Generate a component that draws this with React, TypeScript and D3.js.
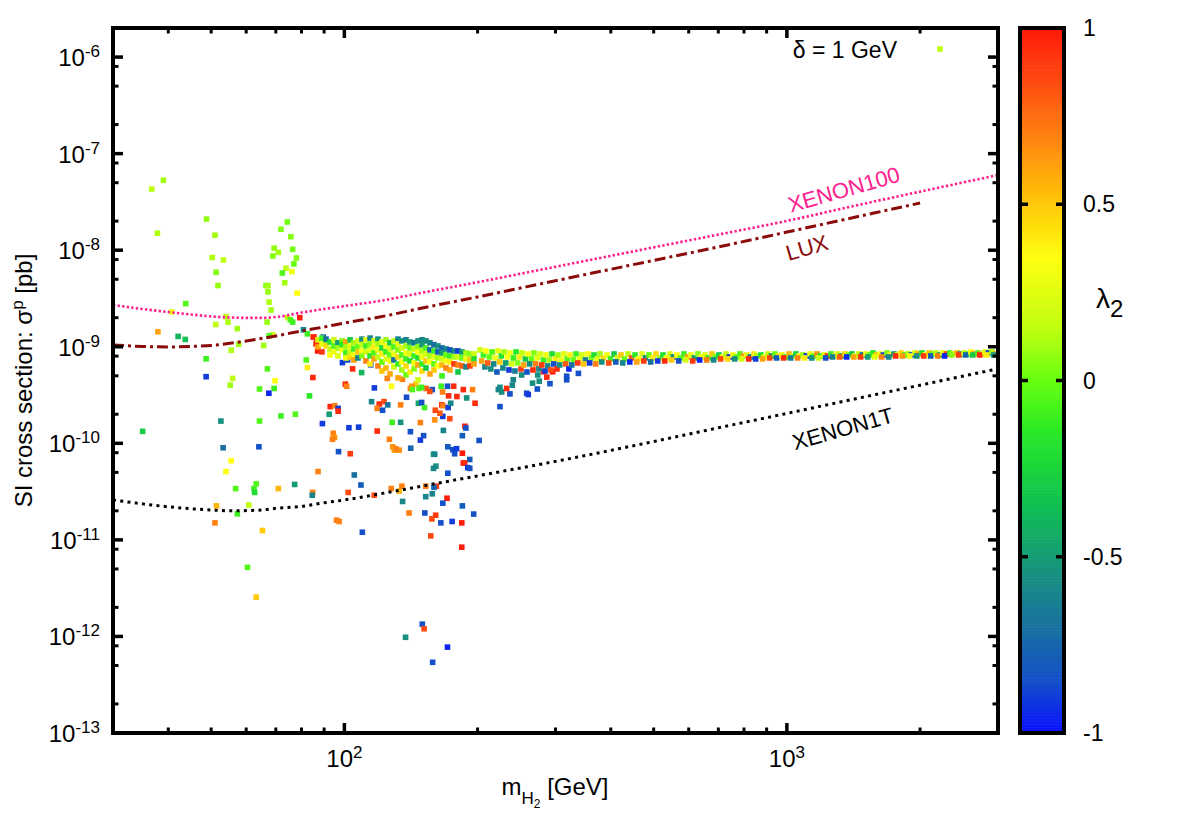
import React from 'react';
import * as d3 from 'd3';

// ---------------- axes / layout ----------------
const X_DOMAIN: [number, number] = [30, 3000];
const Y_DOMAIN: [number, number] = [1e-13, 2e-6];
const X_MAJOR = [100, 1000];
const X_MINOR = [40, 50, 60, 70, 80, 90, 200, 300, 400, 500, 600, 700, 800, 900, 2000];
const Y_MAJOR_EXP = [-13, -12, -11, -10, -9, -8, -7, -6];
const Y_MINOR_MANT = [2, 5, 8];
const CB_TICKS = [1, 0.5, 0, -0.5, -1];

// palette (lambda_2 -> colour)
const PAL_STOPS = [-1, -0.85, -0.7, -0.55, -0.35, -0.15, 0, 0.15, 0.35, 0.5, 0.7, 0.85, 1];
const PAL_COLORS = ['#0a10ff', '#1450c8', '#1870a0', '#189080', '#10c050', '#28e828', '#66ff10', '#c0ff10', '#ffff10', '#ffc808', '#ff8010', '#ff4a10', '#ff1a0a'];

// ---------------- exclusion curves ----------------
const xe100Mass = [30, 35, 40, 45, 50, 55, 60, 65, 70, 80, 90, 100, 120, 150, 200, 300, 500, 700, 1000, 1500, 2000, 3000];
const xe100Sigma = [2.71e-9, 2.46e-9, 2.29e-9, 2.16e-9, 2.06e-9, 2.01e-9, 1.99e-9, 1.99e-9, 2.03e-9, 2.26e-9, 2.46e-9, 2.64e-9, 2.98e-9, 3.63e-9, 4.66e-9, 6.73e-9, 1.07e-8, 1.45e-8, 2.01e-8, 3.04e-8, 4.04e-8, 6.0e-8];

const luxMass = [30, 35, 40, 45, 50, 60, 70, 80, 90, 100, 120, 150, 200, 300, 500, 700, 1000, 1500, 2000];
const luxSigma = [1.044e-9, 1.007e-9, 9.95e-10, 1.007e-9, 1.031e-9, 1.148e-9, 1.294e-9, 1.458e-9, 1.603e-9, 1.763e-9, 2.03e-9, 2.52e-9, 3.28e-9, 4.83e-9, 7.84e-9, 1.08e-8, 1.54e-8, 2.31e-8, 3.08e-8];

const xe1tMass = [30, 35, 40, 50, 56, 65, 70, 80, 90, 100, 120, 150, 200, 300, 375, 500, 700, 1000, 1500, 2000, 3000];
const xe1tSigma = [2.59e-11, 2.36e-11, 2.2e-11, 2.04e-11, 2.0e-11, 2.04e-11, 2.12e-11, 2.22e-11, 2.42e-11, 2.59e-11, 2.99e-11, 3.61e-11, 4.6e-11, 6.5e-11, 7.95e-11, 1.044e-10, 1.447e-10, 2.04e-10, 3.03e-10, 4.0e-10, 5.92e-10];

// ---------------- scan points: [m_H2 (GeV), sigma_p (pb), lambda_2] ----------------
type P = [number, number, number];

const lowPts: P[] = [
  [36.7, 4.3e-8, 0.15], [39, 5.3e-8, 0.1], [37.8, 1.5e-8, 0.12], [48.8, 2.1e-8, 0.08], [51, 1.43e-8, 0.1],
  [50.3, 8.4e-9, 0.12], [53.3, 7.9e-9, 0.15], [51.3, 5.9e-9, 0.05], [51.8, 4.3e-9, 0.08], [71.9, 1.65e-8, 0.05],
  [74.3, 1.96e-8, 0.02], [75.7, 1.38e-8, 0.05], [69.4, 1.05e-8, 0.08], [76.4, 1.02e-8, 0.02], [70.9, 9.5e-9, 0.1],
  [68.9, 8.7e-9, 0.05], [77.9, 8.3e-9, 0.05], [76.9, 7.2e-9, 0.0], [73.8, 6.5e-9, 0.15], [72.4, 5.8e-9, -0.05],
  [76.1, 6.0e-9, 0.3], [73.3, 4.6e-9, 0.1], [66.5, 4.3e-9, 0.05], [67.2, 4.3e-9, 0.1], [67.2, 3.7e-9, 0.08],
  [78.2, 3.6e-9, 0.35], [67.6, 2.9e-9, 0.12], [68.3, 2.4e-9, 0.1], [43.8, 2.8e-9, -0.05], [40.7, 2.3e-9, 0.3],
  [51.2, 1.7e-9, 0.15], [54, 2.05e-9, 0.15], [54.6, 1.8e-9, 0.12], [57.3, 1.54e-9, 0.1], [66.9, 1.8e-9, 0.08],
  [74.4, 2.0e-9, 0.2], [75.5, 1.9e-9, -0.05], [76.4, 1.8e-9, -0.1], [79.3, 2.0e-9, 1.0], [68.9, 1.33e-9, 0.2],
  [67.6, 1.3e-9, -0.05], [37.9, 1.43e-9, 0.6], [42.1, 1.28e-9, -0.4], [43.7, 1.19e-9, -0.35], [57.7, 1.06e-9, 0.1],
  [55.5, 9.2e-10, 0.12], [65.7, 1.03e-9, 0.1], [48.7, 7.5e-10, -0.1], [67, 5.9e-10, -0.05], [48.7, 4.9e-10, -0.9],
  [55.9, 4.7e-10, 0.15], [55.2, 4.0e-10, 0.1], [69.7, 4.45e-10, 0.35], [64.3, 3.65e-10, -0.05], [69.4, 3.7e-10, -0.1],
  [67.5, 3.3e-10, -0.95], [83.4, 3.1e-10, -0.15], [82, 7.3e-10, -0.05], [82.5, 6.1e-10, 0.4], [84.9, 4.8e-10, 0.95],
  [52.6, 1.7e-10, -0.55], [64.3, 1.7e-10, -0.05], [71.9, 1.92e-10, -0.1], [77.5, 2.0e-10, -0.05], [35, 1.33e-10, -0.3],
  [53.2, 9.0e-11, -0.7], [64.1, 9.2e-11, -0.85], [55.5, 6.6e-11, 0.35], [54, 5.1e-11, 0.35], [56.8, 3.4e-11, -0.05],
  [62.5, 3.4e-11, -0.1], [63.2, 3.8e-11, -0.05], [62.7, 3.1e-11, -0.2], [70.9, 3.4e-11, 0.55], [77.2, 3.75e-11, -0.5],
  [51.4, 2.25e-11, 0.55], [60.8, 2.3e-11, 0.15], [57.3, 1.86e-11, -0.1], [51, 1.5e-11, 0.7], [65.3, 1.25e-11, 0.5],
  [60.4, 5.2e-12, -0.05], [87.2, 5.1e-11, 0.7], [84.8, 3.1e-11, 0.7], [84.6, 2.9e-11, -0.6], [63.2, 2.55e-12, 0.5],
];

const midPts: P[] = [
  [80.8, 1.5e-9, -0.6], [82.5, 1.36e-9, -0.1], [85.4, 1.26e-9, 0.9], [86.6, 1.1e-9, 1.0], [87, 9.05e-10, 1.0],
  [89.6, 1.26e-9, -0.8], [99, 6.85e-10, -0.9], [101.7, 7.3e-10, -0.85], [104.4, 5.9e-10, 0.95], [109.4, 5.4e-10, -0.4],
  [100.5, 4.1e-10, 0.95], [101.2, 3.9e-10, 0.7], [116.9, 3.75e-10, -0.9], [114.7, 6.5e-10, -0.85], [115.2, 2.7e-10, -0.6],
  [119.9, 2.55e-10, 0.95], [122.9, 2.7e-10, 0.85], [118.6, 2.3e-10, 0.7], [122, 2.2e-10, -0.85], [125.3, 2.5e-10, -0.7],
  [92.9, 2.4e-10, 0.95], [95.1, 2.45e-10, 0.7], [96.8, 2.3e-10, -0.9], [96.8, 2.15e-10, 0.95], [92.4, 2.0e-10, -0.5],
  [89.2, 1.6e-10, -0.9], [102.4, 1.45e-10, -0.9], [107.7, 1.47e-10, -0.9], [118.6, 1.34e-10, 0.95], [94.4, 1.27e-10, 0.7],
  [95, 1.15e-10, 0.65], [94, 1.1e-10, 0.7], [97, 8.2e-11, -0.85], [103.1, 7.8e-11, 0.9], [126.4, 1.1e-10, 0.7],
  [128.6, 9.2e-11, 0.65], [129.7, 8.5e-11, 0.6], [133, 8.5e-11, 0.65], [130.8, 8.8e-11, 0.7], [134, 1.65e-10, -0.55],
  [128.2, 1.65e-10, -0.1], [141, 1.32e-10, -0.85], [141.2, 8.9e-11, -0.75], [148.5, 1.08e-10, -0.9], [151, 1.2e-10, -0.85],
  [184.8, 1.2e-10, -0.8], [187.3, 1.5e-10, 1.0], [188.2, 1.44e-10, -0.85], [201.6, 1.07e-10, -0.85], [167.4, 1.36e-10, -0.6],
  [148.5, 1.64e-10, 0.7], [160, 1.75e-10, 0.65], [166.9, 1.9e-10, -0.9], [173.1, 1.8e-10, 0.85], [164.4, 2.05e-10, 0.8],
  [166, 2.5e-10, 0.95], [167, 2.45e-10, 0.7], [171.6, 2.35e-10, -0.9], [173.9, 2.6e-10, -0.6], [172, 3.1e-10, 0.95],
  [179.6, 3.05e-10, 0.95], [189, 2.95e-10, -0.55], [197.4, 2.6e-10, 0.95], [185.7, 3.6e-10, 0.95], [194.8, 3.6e-10, 0.7],
  [224.7, 2.4e-10, -0.85], [171.3, 9.2e-11, -0.8], [175.8, 8.6e-11, -0.85], [179.3, 8.8e-11, -0.9], [177.5, 7.8e-11, -0.85],
  [184.8, 7.9e-11, 1.0], [192, 6.8e-11, -0.8], [185.7, 6.25e-11, 1.0], [187, 6.25e-11, 0.95], [190, 5.6e-11, -0.9],
  [192, 5.5e-11, -0.85], [159, 7.7e-11, -0.55], [160, 7.7e-11, -0.6], [161, 5.8e-11, -0.55], [159, 5.5e-11, -0.6],
  [171.3, 4.9e-11, -0.85], [161.4, 3.6e-11, 0.9], [159.4, 3.5e-11, -0.75], [152.7, 3.6e-11, 0.7], [158, 3.0e-11, -0.6],
  [152.7, 2.8e-11, -0.6], [170.6, 2.7e-11, 1.0], [166.9, 2.4e-11, -0.85], [152, 1.9e-11, -0.85], [160.8, 1.8e-11, 0.9],
  [157.7, 1.65e-11, 0.85], [165.2, 1.5e-11, -0.85], [175.2, 1.55e-11, -0.9], [184.8, 2.25e-11, -0.8], [196, 1.85e-11, -0.85],
  [184.2, 1.5e-11, 1.0], [156.8, 1.1e-11, 0.85], [184.2, 8.4e-12, 1.0], [140, 1.9e-11, 0.7], [135.4, 2.5e-11, -0.6],
  [127.6, 3.4e-11, 0.7], [133, 3.2e-11, 0.55], [134.9, 3.6e-11, 0.7], [116.8, 2.9e-11, 0.85], [102, 3.1e-11, 0.85],
  [96, 1.6e-11, 0.7], [97.3, 1.55e-11, 0.7], [109.8, 1.2e-11, -0.85], [105.3, 4.7e-11, -0.7], [109, 3.7e-11, -0.8],
  [137.5, 9.8e-13, -0.55], [150, 1.34e-12, -0.85], [151.4, 1.2e-12, 0.85], [158.3, 5.4e-13, -0.85], [171, 7.75e-13, -0.95],
  [127.8, 3.9e-10, 0.35], [125, 4.7e-10, 0.7], [135.3, 4.6e-10, 0.7], [138.2, 3.0e-10, -0.85], [134, 2.5e-10, 0.7],
  [151.7, 2.35e-10, -0.1], [147, 2.6e-10, -0.45], [149.5, 2.65e-10, -0.85], [160.5, 2.2e-10, 0.85], [176.6, 3.9e-10, 0.95],
  [145, 4.1e-10, 0.5], [141, 3.7e-10, 0.7], [142, 3.9e-10, 0.65], [158, 3.6e-10, -0.85], [166.7, 3.4e-10, 0.7],
  [165.5, 3.9e-10, -0.1], [171, 3.9e-10, -0.85], [153, 3.7e-10, 0.8], [156, 3.45e-10, 0.85], [147.5, 3.7e-10, -0.05],
  [149.5, 3.8e-10, -0.1], [142.5, 3.6e-10, -0.05],
  [224.7, 3.8e-10, -0.55], [222.8, 3.6e-10, -0.6], [226.7, 3.4e-10, -0.55], [236.7, 3.25e-10, -0.85], [232.7, 3.7e-10, 0.95],
  [239.6, 4.0e-10, -0.6], [258.2, 3.3e-10, -0.85], [260.4, 3.2e-10, -0.9], [272.9, 3.65e-10, -0.85], [275.7, 4.4e-10, -0.55],
  [291.5, 4.15e-10, -0.85], [286.7, 4.85e-10, 0.95], [281.6, 5.5e-10, 0.95], [295.6, 5.5e-10, 1.0], [318, 4.55e-10, -0.85],
  [318, 4.95e-10, -0.85], [338, 5.3e-10, -0.85], [251.6, 5.1e-10, -0.55], [240.8, 4.55e-10, -0.6], [273.5, 5.1e-10, -0.55],
  [266.2, 4.2e-10, -0.55],
];

const clusterPts: P[] = [
  [85, 1.26e-9, 0.95], [86.3, 1.07e-9, 0.95], [87.2, 1.18e-9, 0.2], [87.2, 9.95e-10, 0.6],
  [89, 1.23e-9, -0.1], [89, 1.07e-9, 0.3], [89, 8.84e-10, 0.9],
  [90.9, 1.15e-9, 0.0], [90.9, 1.02e-9, 0.45], [90.9, 1.2e-9, -0.7],
  [92.8, 1.12e-9, -0.2], [92.8, 9.49e-10, 0.15], [92.8, 8.22e-10, 0.35],
  [94.7, 1.18e-9, 0.2], [94.7, 1.02e-9, -0.05], [94.7, 8.84e-10, 0.3],
  [96.7, 1.1e-9, -0.5], [96.7, 9.72e-10, 0.1], [96.7, 8.03e-10, 0.25],
  [98.8, 1.15e-9, 0.05], [98.8, 9.27e-10, 0.35], [98.8, 1.05e-9, -0.15],
  [100.8, 1.12e-9, 0.6], [100.8, 9.95e-10, 0.1], [100.8, 8.63e-10, -0.1], [100.8, 7.66e-10, 0.3],
  [103, 1.18e-9, -0.3], [103, 1.02e-9, 0.25], [103, 8.84e-10, 0.15], [103, 7.84e-10, 0.45],
  [105.1, 1.1e-9, 0.1], [105.1, 9.49e-10, -0.1], [105.1, 8.22e-10, 0.3], [105.1, 7.3e-10, 0.6],
  [107.3, 1.15e-9, 0.2], [107.3, 9.95e-10, 0.0], [107.3, 8.84e-10, 0.5], [107.3, 7.66e-10, -0.6],
  [109.6, 1.2e-9, -0.55], [109.6, 1.05e-9, 0.15], [109.6, 9.05e-10, 0.35], [109.6, 8.03e-10, 0.05],
  [111.9, 1.18e-9, 0.3], [111.9, 1.02e-9, -0.1], [111.9, 8.84e-10, 0.2], [111.9, 7.13e-10, 0.7],
  [114.3, 1.23e-9, -0.6], [114.3, 1.07e-9, 0.05], [114.3, 9.27e-10, 0.25], [114.3, 8.03e-10, -0.15], [114.3, 6.64e-10, 0.4],
  [116.7, 1.15e-9, 0.2], [116.7, 9.95e-10, 0.4], [116.7, 8.63e-10, -0.05], [116.7, 7.48e-10, 0.6],
  [119.1, 1.2e-9, -0.5], [119.1, 1.07e-9, 0.1], [119.1, 9.27e-10, 0.3], [119.1, 7.84e-10, 0.15], [119.1, 6.33e-10, 0.7],
  [121.6, 1.12e-9, 0.25], [121.6, 9.72e-10, -0.2], [121.6, 8.42e-10, 0.4], [121.6, 6.96e-10, 0.0], [121.6, 5.61e-10, 0.5],
  [124.2, 1.18e-9, 0.1], [124.2, 1.02e-9, 0.35], [124.2, 8.84e-10, -0.1], [124.2, 7.48e-10, 0.25], [124.2, 6.03e-10, 0.55],
  [126.8, 1.1e-9, -0.3], [126.8, 9.49e-10, 0.2], [126.8, 8.22e-10, 0.0], [126.8, 7.13e-10, 0.3], [126.8, 5.23e-10, 0.6],
  [129.4, 1.15e-9, 0.15], [129.4, 9.95e-10, -0.05], [129.4, 8.42e-10, 0.3], [129.4, 7.3e-10, -0.7], [129.4, 6.18e-10, 0.2],
  [132.2, 1.2e-9, -0.6], [132.2, 1.07e-9, 0.25], [132.2, 9.27e-10, 0.05], [132.2, 7.84e-10, 0.45], [132.2, 6.64e-10, -0.1], [132.2, 4.76e-10, 0.6],
  [134.9, 1.15e-9, -0.55], [134.9, 9.72e-10, 0.2], [134.9, 8.22e-10, -0.05], [134.9, 6.96e-10, 0.35], [134.9, 5.75e-10, 0.1],
  [137.8, 1.18e-9, -0.6], [137.8, 1.02e-9, 0.1], [137.8, 8.63e-10, 0.3], [137.8, 7.48e-10, -0.1], [137.8, 6.33e-10, 0.45], [137.8, 5.11e-10, 0.0],
  [140.7, 1.12e-9, -0.5], [140.7, 9.72e-10, 0.0], [140.7, 8.42e-10, 0.25], [140.7, 7.13e-10, -0.2], [140.7, 5.48e-10, 0.4],
  [143.7, 1.1e-9, -0.65], [143.7, 9.49e-10, 0.15], [143.7, 8.03e-10, -0.1], [143.7, 6.8e-10, 0.3], [143.7, 5.89e-10, 0.05],
  [146.7, 1.15e-9, -0.55], [146.7, 9.95e-10, 0.05], [146.7, 8.84e-10, 0.35], [146.7, 7.66e-10, -0.2], [146.7, 6.48e-10, 0.6], [146.7, 4.54e-10, 0.2],
  [149.8, 1.18e-9, -0.6], [149.8, 1.05e-9, -0.5], [149.8, 9.05e-10, 0.1], [149.8, 7.84e-10, 0.3], [149.8, 6.64e-10, -0.1], [149.8, 5.61e-10, 0.45],
  [152.9, 1.15e-9, -0.55], [152.9, 9.72e-10, -0.05], [152.9, 8.42e-10, 0.2], [152.9, 7.13e-10, 0.5], [152.9, 6.03e-10, -0.3],
  [156.1, 1.1e-9, -0.6], [156.1, 9.27e-10, -0.75], [156.1, 8.03e-10, 0.1], [156.1, 6.96e-10, 0.35], [156.1, 5.23e-10, 0.6],
  [159.4, 1.05e-9, -0.7], [159.4, 9.05e-10, -0.1], [159.4, 7.84e-10, 0.25], [159.4, 6.64e-10, 0.0], [159.4, 5.75e-10, 0.5],
  [162.7, 1.02e-9, -0.55], [162.7, 8.84e-10, -0.8], [162.7, 7.66e-10, 0.1], [162.7, 6.33e-10, 0.35],
  [166.2, 9.72e-10, -0.75], [166.2, 8.63e-10, -0.5], [166.2, 7.48e-10, 0.2], [166.2, 6.48e-10, 0.55], [166.2, 4.99e-10, -0.1],
  [169.7, 9.49e-10, -0.6], [169.7, 8.22e-10, 0.0], [169.7, 7.13e-10, 0.3], [169.7, 6.03e-10, 0.7],
  [173.2, 9.27e-10, -0.85], [173.2, 8.03e-10, -0.1], [173.2, 6.96e-10, 0.4], [173.2, 5.75e-10, 0.6],
  [176.9, 9.05e-10, -0.6], [176.9, 7.84e-10, 0.1], [176.9, 6.64e-10, 0.9],
  [180.6, 9.05e-10, -0.9], [180.6, 7.84e-10, 0.2], [180.6, 6.48e-10, 0.7], [180.6, 5.48e-10, -0.3],
  [184.4, 8.84e-10, -0.5], [184.4, 7.66e-10, 0.0], [184.4, 6.33e-10, 0.8],
  [188.3, 8.63e-10, 0.1], [188.3, 7.48e-10, 0.3], [188.3, 6.18e-10, -0.6],
  [192.2, 8.42e-10, 0.05], [192.2, 7.3e-10, 0.5], [192.2, 6.33e-10, 0.9],
  [196.3, 8.42e-10, 0.2], [196.3, 7.48e-10, -0.2], [196.3, 6.64e-10, 0.6],
];

const bandPts: P[] = [
  [202.5, 9.27e-10, 0.2], [206.2, 8.22e-10, -0.1], [204.3, 7.13e-10, 0.6], [207.8, 6.18e-10, -0.6],
  [208.9, 9.05e-10, 0.35], [212.7, 7.84e-10, 0], [210.8, 6.8e-10, 0.8], [214.3, 5.89e-10, -0.55],
  [215.6, 8.84e-10, -0.05], [219.5, 7.66e-10, 0.3], [217.5, 6.64e-10, -0.6], [221.2, 5.48e-10, -0.8],
  [222.4, 9.05e-10, 0.25], [226.4, 8.03e-10, -0.2], [224.4, 6.96e-10, 0.5], [228.2, 6.03e-10, -0.6],
  [229.5, 8.84e-10, 0.1], [233.6, 7.84e-10, 0.35], [231.6, 6.8e-10, -0.5], [235.5, 5.75e-10, -0.9],
  [236.7, 8.63e-10, 0.3], [241, 7.66e-10, -0.1], [238.8, 6.64e-10, 0.2], [242.9, 5.61e-10, -0.65],
  [244.3, 8.84e-10, -0.15], [248.7, 7.84e-10, 0.4], [246.5, 6.8e-10, 0.05], [250.7, 5.89e-10, 0.9],
  [252, 8.63e-10, 0.15], [256.5, 7.48e-10, -0.3], [254.3, 6.48e-10, 0.6], [258.6, 5.48e-10, -0.85],
  [260, 8.42e-10, 0.35], [264.7, 7.48e-10, 0], [262.3, 6.64e-10, -0.55], [266.8, 5.75e-10, 0.95],
  [268.2, 8.63e-10, 0.05], [273, 7.66e-10, 0.25], [270.6, 6.64e-10, 0.7], [275.2, 5.89e-10, -0.6],
  [276.8, 8.42e-10, 0.2], [281.8, 7.3e-10, -0.1], [279.3, 6.48e-10, 0.9], [284, 5.61e-10, -0.9],
  [285.5, 8.22e-10, 0.3], [290.6, 7.3e-10, 0.1], [288.1, 6.33e-10, -0.6], [292.9, 5.75e-10, 0.85],
  [294.6, 8.42e-10, -0.2], [299.9, 7.48e-10, 0.4], [297.3, 6.64e-10, -0.85], [302.3, 5.89e-10, 0.95],
  [303.9, 8.22e-10, 0.1], [309.4, 7.3e-10, 0.3], [306.6, 6.48e-10, -0.55],
  [313.5, 8.42e-10, 0.25], [319.1, 7.48e-10, -0.05], [316.3, 6.64e-10, 0.8], [321.7, 5.89e-10, -0.95],
  [323.6, 8.22e-10, 0.4], [329.4, 7.3e-10, 0], [326.5, 6.48e-10, -0.7],
  [333.8, 8.42e-10, -0.1], [339.8, 7.48e-10, 0.3], [336.8, 6.8e-10, 0.9],
  [344.4, 8.22e-10, 0.2], [350.6, 7.3e-10, -0.6], [347.5, 6.64e-10, 0.5],
  [355.2, 8.42e-10, 0.35], [361.6, 7.66e-10, 0.05], [358.4, 6.8e-10, -0.9],
  [366.5, 8.22e-10, -0.2], [373.1, 7.48e-10, 0.25], [369.8, 6.64e-10, 0.7],
  [378.2, 8.42e-10, 0.1], [385, 7.66e-10, 0.45], [381.6, 6.96e-10, -0.55],
  [392.3, 8.22e-10, 0.3], [399.4, 7.48e-10, -0.1], [395.8, 6.8e-10, 0.85],
  [406.9, 8.42e-10, -0.3], [414.2, 7.66e-10, 0.2], [410.6, 6.96e-10, -0.8],
  [421.9, 8.22e-10, 0.5], [429.5, 7.48e-10, 0], [425.7, 6.8e-10, -0.6],
  [437.6, 8.42e-10, 0.15], [445.5, 7.66e-10, 0.8], [441.5, 6.96e-10, -0.95],
  [453.8, 8.22e-10, -0.15], [462, 7.48e-10, 0.35], [457.9, 6.96e-10, 0.6],
  [470.6, 8.42e-10, 0.25], [479.1, 7.66e-10, -0.55], [474.9, 7.13e-10, 0.9],
  [488, 8.22e-10, 0], [496.8, 7.66e-10, 0.4], [492.4, 6.96e-10, -0.7],
  [506.1, 8.42e-10, 0.45], [515.2, 7.66e-10, 0.1], [510.7, 7.13e-10, -0.9],
  [524.8, 8.22e-10, -0.2], [534.2, 7.66e-10, 0.3], [529.6, 7.13e-10, 0.95],
  [544.3, 8.42e-10, 0.2], [554.1, 7.84e-10, -0.6], [549.2, 7.3e-10, 0.5],
  [564.4, 8.22e-10, 0.35], [574.6, 7.66e-10, 0], [569.5, 7.13e-10, -0.85],
  [585.4, 8.42e-10, -0.1], [595.9, 7.84e-10, 0.6], [590.7, 7.3e-10, 0.2],
  [607.1, 8.22e-10, 0.3], [618, 7.66e-10, -0.5], [612.6, 7.13e-10, 0.9],
  [629.6, 8.42e-10, 0.05], [640.9, 7.84e-10, 0.4], [635.3, 7.3e-10, -0.95],
  [652.9, 8.22e-10, 0.25], [664.7, 7.66e-10, -0.15], [658.8, 7.3e-10, 0.7],
  [677.1, 8.42e-10, 0.5], [689.3, 7.84e-10, 0], [683.2, 7.3e-10, -0.6],
  [702.2, 8.22e-10, -0.3], [714.8, 7.84e-10, 0.3], [708.6, 7.48e-10, 0.85],
  [728.3, 8.42e-10, 0.15], [741.4, 7.84e-10, -0.9], [734.9, 7.48e-10, 0.45],
  [755.3, 8.22e-10, 0.35], [768.9, 7.84e-10, 0], [762.2, 7.48e-10, -0.55],
  [783.4, 8.42e-10, -0.05], [797.5, 8.03e-10, 0.6], [790.5, 7.48e-10, 0.2],
  [812.4, 8.22e-10, 0.25], [827, 7.84e-10, -0.7], [819.8, 7.48e-10, 0.95],
  [842.5, 8.42e-10, 0.4], [857.7, 8.03e-10, 0.1], [850.1, 7.48e-10, -0.9],
  [873.8, 8.22e-10, -0.2], [889.5, 7.84e-10, 0.3], [881.7, 7.48e-10, 0.6],
  [906.3, 8.42e-10, 0.2], [922.6, 8.03e-10, -0.5], [914.5, 7.66e-10, 0.85],
  [939.9, 8.42e-10, 0], [956.8, 8.03e-10, 0.45], [948.4, 7.66e-10, -0.8],
  [974.8, 8.22e-10, 0.3], [992.3, 7.84e-10, -0.1], [983.6, 7.66e-10, 0.95],
  [1011, 8.42e-10, 0.55], [1029, 8.03e-10, 0.15], [1020, 7.66e-10, -0.65],
  [1048, 8.42e-10, -0.25], [1067, 8.03e-10, 0.35], [1058, 7.66e-10, 0.7],
  [1087, 8.22e-10, 0.1], [1107, 8.03e-10, -0.9], [1097, 7.66e-10, 0.4],
  [1128, 8.42e-10, 0.3], [1148, 8.03e-10, 0], [1138, 7.66e-10, -0.55],
  [1169, 8.42e-10, 0.65], [1190, 8.03e-10, -0.2], [1180, 7.66e-10, 0.2],
  [1213, 8.22e-10, 0.25], [1235, 8.03e-10, 0.9], [1224, 7.66e-10, -0.85],
  [1258, 8.42e-10, -0.1], [1281, 8.03e-10, 0.4], [1269, 7.84e-10, -0.6],
  [1304, 8.42e-10, 0.2], [1328, 8.03e-10, -0.4], [1316, 7.84e-10, 0.8],
  [1353, 8.42e-10, 0.45], [1377, 8.22e-10, 0.05], [1365, 7.84e-10, -0.95],
  [1403, 8.42e-10, -0.3], [1428, 8.03e-10, 0.3], [1416, 7.84e-10, 0.6],
  [1455, 8.42e-10, 0.15], [1481, 8.22e-10, -0.7], [1468, 7.84e-10, 0.9],
  [1509, 8.42e-10, 0.35], [1536, 8.22e-10, 0], [1523, 7.84e-10, -0.5],
  [1565, 8.63e-10, -0.15], [1593, 8.22e-10, 0.55], [1579, 7.84e-10, 0.25],
  [1623, 8.42e-10, 0.3], [1652, 8.22e-10, -0.85], [1638, 7.84e-10, 0.7],
  [1684, 8.63e-10, 0.05], [1714, 8.22e-10, 0.4], [1699, 7.84e-10, -0.6],
  [1746, 8.42e-10, -0.5], [1777, 8.22e-10, 0.2], [1762, 8.03e-10, 0.95],
  [1811, 8.63e-10, 0.45], [1844, 8.22e-10, -0.1], [1827, 8.03e-10, 0.65],
  [1878, 8.42e-10, 0.1], [1912, 8.22e-10, -0.9], [1895, 8.03e-10, 0.3],
  [1948, 8.63e-10, 0.25], [1983, 8.42e-10, 0.6], [1966, 8.03e-10, -0.55],
  [2020, 8.63e-10, -0.2], [2056, 8.22e-10, 0.35], [2038, 8.03e-10, 0.9],
  [2095, 8.63e-10, 0.5], [2133, 8.42e-10, 0], [2114, 8.03e-10, -0.8],
  [2173, 8.63e-10, 0.15], [2212, 8.22e-10, -0.45], [2193, 8.03e-10, 0.7],
  [2253, 8.63e-10, 0.3], [2294, 8.42e-10, 0.85], [2273, 8.03e-10, -0.95],
  [2337, 8.63e-10, -0.1], [2379, 8.42e-10, 0.4], [2358, 8.22e-10, 0.05],
  [2424, 8.63e-10, 0.55], [2468, 8.42e-10, -0.6], [2446, 8.22e-10, 0.9],
  [2514, 8.63e-10, 0.2], [2559, 8.42e-10, 0], [2537, 8.22e-10, -0.75],
  [2607, 8.84e-10, 0.35], [2654, 8.42e-10, 0.65], [2631, 8.22e-10, -0.3],
  [2704, 8.63e-10, -0.05], [2753, 8.42e-10, 0.5], [2728, 8.22e-10, 0.95],
  [2804, 8.84e-10, 0.25], [2854, 8.63e-10, -0.85], [2829, 8.22e-10, 0.4],
  [2908, 8.84e-10, 0.1], [2960, 8.42e-10, 0.6], [2934, 8.22e-10, -0.5],
];

const LEGEND_LAMBDA = 0.15;

// ---------------- layout constants ----------------
const W = 1186, H = 830;
const PL = 113, PR = 998, PT = 28, PB = 733;
const CBL = 1020, CBR = 1064;
const FONT = "'Liberation Sans', Arial, Helvetica, sans-serif";

export default function App() {
  const x = d3.scaleLog().domain(X_DOMAIN).range([PL, PR]);
  const y = d3.scaleLog().domain(Y_DOMAIN).range([PB, PT]);
  const color = d3.scaleLinear<string>().domain(PAL_STOPS).range(PAL_COLORS).interpolate(d3.interpolateRgb).clamp(true);
  const cbY = d3.scaleLinear().domain([-1, 1]).range([PB, PT]);

  const curve = (ms: number[], ss: number[]) =>
    d3.line<number>().x((m) => x(m)).y((_, i) => y(ss[i])).curve(d3.curveMonotoneX)(ms) || '';

  const yMinor: number[] = [];
  Y_MAJOR_EXP.forEach((e) => Y_MINOR_MANT.forEach((mm) => {
    const v = mm * Math.pow(10, e);
    if (v > Y_DOMAIN[0] && v < Y_DOMAIN[1]) yMinor.push(v);
  }));

  const allPts = [...lowPts, ...midPts, ...clusterPts, ...bandPts];
  const S = 5.6;
  const nBands = 240;
  const cbSteps = d3.range(nBands).map((i) => -1 + (2 * (i + 0.5)) / nBands);
  const stepH = (PB - PT) / nBands;

  return (
    <svg width={W} height={H} style={{ position: 'absolute', left: 0, top: 0, background: '#fff' }} fontFamily={FONT}>
      <defs>
        <clipPath id="plotclip">
          <rect x={PL} y={PT} width={PR - PL} height={PB - PT} />
        </clipPath>
      </defs>
      <rect x={0} y={0} width={W} height={H} fill="#fff" />

      {/* points */}
      <g clipPath="url(#plotclip)">
        {allPts.map((p, i) => (
          <rect key={i} x={x(p[0]) - S / 2} y={y(p[1]) - S / 2} width={S} height={S} fill={color(p[2])} />
        ))}
      </g>

      {/* curves */}
      <g clipPath="url(#plotclip)" fill="none">
        <path d={curve(xe100Mass, xe100Sigma)} stroke="#ff2090" strokeWidth={2.6} strokeDasharray="2.4 2.2" />
        <path d={curve(luxMass, luxSigma)} stroke="#8b0a0a" strokeWidth={3} strokeDasharray="11 4 3 4" />
        <path d={curve(xe1tMass, xe1tSigma)} stroke="#000" strokeWidth={3} strokeDasharray="3 4.3" />
      </g>

      {/* curve labels */}
      <text transform="translate(846,197) rotate(-16)" textAnchor="middle" fontSize={22} fill="#ff2090">XENON100</text>
      <text transform="translate(809,255) rotate(-16)" textAnchor="middle" fontSize={22} fill="#8b0a0a">LUX</text>
      <text transform="translate(845,436) rotate(-16)" textAnchor="middle" fontSize={22} fill="#000">XENON1T</text>

      {/* legend */}
      <text x={897} y={58} textAnchor="end" fontSize={23} fill="#000">δ = 1 GeV</text>
      <rect x={940 - S / 2} y={49 - S / 2} width={S} height={S} fill={color(LEGEND_LAMBDA)} />

      {/* ticks */}
      <g stroke="#000">
        {X_MAJOR.map((v) => (
          <g key={'xM' + v} strokeWidth={3.5}>
            <line x1={x(v)} x2={x(v)} y1={PB} y2={PB - 10} />
            <line x1={x(v)} x2={x(v)} y1={PT} y2={PT + 10} />
          </g>
        ))}
        {X_MINOR.map((v) => (
          <g key={'xm' + v} strokeWidth={3}>
            <line x1={x(v)} x2={x(v)} y1={PB} y2={PB - 5.5} />
            <line x1={x(v)} x2={x(v)} y1={PT} y2={PT + 5.5} />
          </g>
        ))}
        {Y_MAJOR_EXP.map((e) => {
          const yy = y(Math.pow(10, e));
          return (
            <g key={'yM' + e} strokeWidth={3.5}>
              <line x1={PL} x2={PL + 10} y1={yy} y2={yy} />
              <line x1={PR} x2={PR - 10} y1={yy} y2={yy} />
            </g>
          );
        })}
        {yMinor.map((v, i) => (
          <g key={'ym' + i} strokeWidth={3}>
            <line x1={PL} x2={PL + 5.5} y1={y(v)} y2={y(v)} />
            <line x1={PR} x2={PR - 5.5} y1={y(v)} y2={y(v)} />
          </g>
        ))}
      </g>

      {/* frame */}
      <rect x={PL} y={PT} width={PR - PL} height={PB - PT} fill="none" stroke="#000" strokeWidth={4} />

      {/* y tick labels */}
      {Y_MAJOR_EXP.map((e) => (
        <text key={'yl' + e} x={100} y={y(Math.pow(10, e)) + 9} textAnchor="end" fontSize={24} fill="#000">
          10<tspan dy={-9} fontSize={17}>{String(e)}</tspan>
        </text>
      ))}
      {/* x tick labels */}
      {X_MAJOR.map((v) => (
        <text key={'xl' + v} x={x(v)} y={767} textAnchor="middle" fontSize={24} fill="#000">
          10<tspan dy={-9} fontSize={17}>{String(Math.round(Math.log10(v)))}</tspan>
        </text>
      ))}

      {/* axis titles */}
      <text x={555} y={795} textAnchor="middle" fontSize={24} fill="#000">
        m<tspan dy={9} fontSize={17}>H</tspan><tspan dy={4} fontSize={12}>2</tspan><tspan dy={-13} fontSize={24}> [GeV]</tspan>
      </text>
      <text transform={`translate(32,${(PT + PB) / 2}) rotate(-90)`} textAnchor="middle" fontSize={24} fill="#000">
        SI cross section: σ<tspan dy={-9} fontSize={17}>p</tspan><tspan dy={9} fontSize={24}> [pb]</tspan>
      </text>

      {/* colour box */}
      <g>
        {cbSteps.map((v, i) => (
          <rect key={'cb' + i} x={CBL} y={PB - (i + 1) * stepH} width={CBR - CBL} height={stepH + 0.6} fill={color(v)} />
        ))}
        <rect x={CBL} y={PT} width={CBR - CBL} height={PB - PT} fill="none" stroke="#000" strokeWidth={4} />
        {CB_TICKS.map((v) => (
          <g key={'cbt' + v}>
            {v > -1 && v < 1 && (
              <g stroke="#000" strokeWidth={3.5}>
                <line x1={CBL} x2={CBL + 8} y1={cbY(v)} y2={cbY(v)} />
                <line x1={CBR} x2={CBR - 8} y1={cbY(v)} y2={cbY(v)} />
              </g>
            )}
            <text x={1083} y={cbY(v) + 8} fontSize={23} fill="#000">{String(v)}</text>
          </g>
        ))}
        <text x={1096} y={308} fontSize={28} fill="#000">
          λ<tspan dy={9} fontSize={24}>2</tspan>
        </text>
      </g>
    </svg>
  );
}
